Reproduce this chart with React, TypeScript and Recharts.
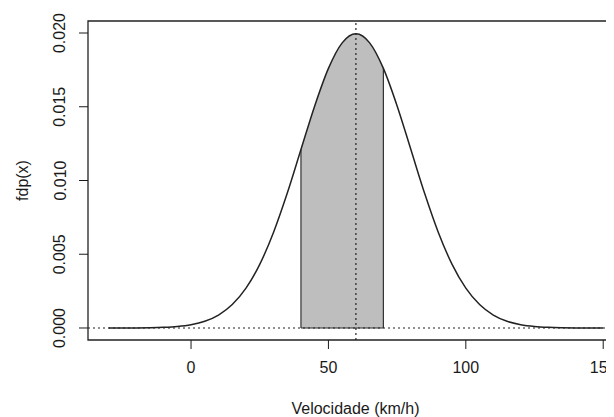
import React from 'react';
import { ComposedChart, Line, Area, XAxis, YAxis, ReferenceLine, ReferenceArea, Label } from 'recharts';

// velocidade (km/h) e densidade
const velocidade = [
  -30, -25, -20, -15, -10, -5, 0, 5, 10, 15, 20, 25, 30, 35, 40, 45, 50, 55, 60,
  65, 70, 75, 80, 85, 90, 95, 100, 105, 110, 115, 120, 125, 130, 135, 140, 145, 150,
];
const fdp = [
  0.0000008, 0.0000024, 0.0000067, 0.0000176, 0.0000436, 0.000101, 0.000222, 0.000455,
  0.000876, 0.001587, 0.0027, 0.004314, 0.006476, 0.009132, 0.012099, 0.015057, 0.017603,
  0.019333, 0.019947, 0.019333, 0.017603, 0.015057, 0.012099, 0.009132, 0.006476, 0.004314,
  0.0027, 0.001587, 0.000876, 0.000455, 0.000222, 0.000101, 0.0000436, 0.0000176, 0.0000067,
  0.0000024, 0.0000008,
];
const inicioFaixa = 40;
const fimFaixa = 70;
const media = 60;
const xTicks = [0, 50, 100, 150];
const yTicks = [0, 0.005, 0.01, 0.015, 0.02];

const xDomain: [number, number] = [-37.5, 157.2];
const yDomain: [number, number] = [-0.000814, 0.020814];

const FONT = '"Liberation Sans", Arial, sans-serif';
const INK = '#1a1a1a';

const data = velocidade.map((v, i) => ({
  v,
  fdp: fdp[i],
  faixa: v >= inicioFaixa && v <= fimFaixa ? fdp[i] : null,
}));

const fdpEm = (v: number) => fdp[velocidade.indexOf(v)];

const YTick = (props: any) => {
  const { x, y, payload } = props;
  return (
    <text
      x={x}
      y={y}
      transform={`rotate(-90, ${x}, ${y})`}
      textAnchor="middle"
      dominantBaseline="central"
      fontSize={16}
      fontFamily={FONT}
      fill={INK}
    >
      {Number(payload.value).toFixed(3)}
    </text>
  );
};

const YTitle = (props: any) => {
  const vb = props.viewBox || { x: 0, y: 13, width: 80, height: 319 };
  const cx = vb.x + 14;
  const cy = vb.y + vb.height / 2;
  return (
    <text
      x={cx}
      y={cy}
      transform={`rotate(-90, ${cx}, ${cy})`}
      textAnchor="middle"
      dominantBaseline="central"
      fontSize={16}
      fontFamily={FONT}
      fill={INK}
    >
      fdp(x)
    </text>
  );
};

export default function App() {
  return (
    <div style={{ width: 606, height: 409, overflow: 'hidden' }}>
      <ComposedChart
        width={640}
        height={409}
        data={data}
        margin={{ top: 13, right: 25, bottom: 0, left: 0 }}
      >
        <XAxis
          dataKey="v"
          type="number"
          domain={xDomain}
          ticks={xTicks}
          allowDataOverflow
          axisLine={false}
          tickLine={{ stroke: INK }}
          tickSize={9}
          tickMargin={13}
          height={77}
          tick={{ fontSize: 16, fill: INK, fontFamily: FONT }}
        >
          <Label
            value="Velocidade (km/h)"
            position="insideBottom"
            offset={3}
            style={{ fontSize: 16, fill: INK, fontFamily: FONT }}
          />
        </XAxis>
        <YAxis
          type="number"
          domain={yDomain}
          ticks={yTicks}
          allowDataOverflow
          axisLine={false}
          tickLine={{ stroke: INK }}
          tickSize={9}
          tickMargin={19}
          width={80}
          tick={<YTick />}
          label={{ content: <YTitle /> }}
        />
        <Area
          dataKey="faixa"
          type="monotone"
          baseValue={0}
          fill="#bebebe"
          fillOpacity={1}
          stroke="none"
          connectNulls={false}
          isAnimationActive={false}
        />
        <ReferenceLine
          segment={[{ x: inicioFaixa, y: 0 }, { x: inicioFaixa, y: fdpEm(inicioFaixa) }]}
          stroke="#333"
          strokeWidth={1.2}
        />
        <ReferenceLine
          segment={[{ x: fimFaixa, y: 0 }, { x: fimFaixa, y: fdpEm(fimFaixa) }]}
          stroke="#333"
          strokeWidth={1.2}
        />
        <ReferenceLine
          segment={[{ x: inicioFaixa, y: 0 }, { x: fimFaixa, y: 0 }]}
          stroke="#333"
          strokeWidth={1.2}
        />
        <Line
          dataKey="fdp"
          type="monotone"
          stroke="#222"
          strokeWidth={1.5}
          dot={false}
          activeDot={false}
          isAnimationActive={false}
        />
        <ReferenceLine y={0} stroke="#222" strokeDasharray="2 3" strokeWidth={1.2} />
        <ReferenceLine x={media} stroke="#222" strokeDasharray="2 3" strokeWidth={1.2} />
        <ReferenceArea
          x1={xDomain[0]}
          x2={xDomain[1]}
          y1={yDomain[0]}
          y2={yDomain[1]}
          fill="none"
          fillOpacity={0}
          stroke="#222"
          strokeWidth={1.3}
          ifOverflow="visible"
        />
      </ComposedChart>
    </div>
  );
}
